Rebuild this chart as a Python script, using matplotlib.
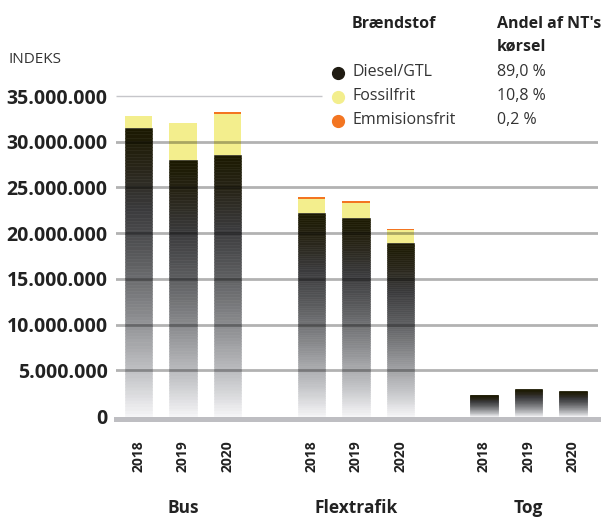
import numpy as np
import matplotlib
matplotlib.use("Agg")
import matplotlib.pyplot as plt
from matplotlib.colors import LinearSegmentedColormap
import matplotlib.transforms as mtransforms

plt.rcParams['font.family'] = ['Open Sans', 'DejaVu Sans']

# ---- data (values in millions) ----
groups = ['Bus', 'Flextrafik', 'Tog']
years = ['2018', '2019', '2020']
diesel = [31.5, 27.97, 28.56, 22.2, 21.7, 18.97, 2.3, 2.95, 2.73]
fossil = [1.3, 4.03, 4.48, 1.56, 1.63, 1.38, 0.0, 0.0, 0.0]
emission = [0.0, 0.0, 0.16, 0.21, 0.14, 0.14, 0.0, 0.0, 0.0]
ytick_vals = [0, 5, 10, 15, 20, 25, 30, 35]
legend_names = ['Diesel/GTL', 'Fossilfrit', 'Emmisionsfrit']
legend_shares = ['89,0 %', '10,8 %', '0,2 %']

C_DIESEL = '#1f1b12'
C_FOSSIL = '#f3ee8d'
C_EMIS = '#f37521'

W, H = 601, 519
fig = plt.figure(figsize=(W / 100, H / 100), dpi=100)

ymin, ymax = -0.27, 35.3
ax_bottom_px, ax_top_px = 418.5, 93.3
ax = fig.add_axes([116 / W, (H - ax_bottom_px) / H, 482 / W, (ax_bottom_px - ax_top_px) / H])

# positions
step_px = 44.5
group_px = 172.75
pos = []
for gi in range(len(groups)):
    for yi in range(len(years)):
        pos.append(gi * group_px / step_px + yi)
pos = np.array(pos)
bw = 27.5 / step_px

cmap = LinearSegmentedColormap.from_list('g', [
    (0.0, '#f5f5f7'),
    (0.15, '#c2c3c6'),
    (0.35, '#8a8b8e'),
    (0.55, '#5a5b5d'),
    (0.72, '#3a3a3c'),
    (0.86, '#282519'),
    (1.0, '#1b1900'),
])

xl = (116 - 138.5) / step_px
xr = (598 - 138.5) / step_px

# bars: diesel segment drawn as a vertical gradient made of thin slices
n_slices = 90
frac = np.arange(n_slices) / n_slices
for x, d, f, e in zip(pos, diesel, fossil, emission):
    cols = cmap(frac + 0.5 / n_slices)
    ax.bar(np.full(n_slices, x), np.full(n_slices, d / n_slices), bottom=frac * d,
           width=bw, color=cols, edgecolor=cols, linewidth=0.4, zorder=2)
    if f > 0:
        ax.bar(x, f, bottom=d, width=bw, color=C_FOSSIL, zorder=2.2, linewidth=0)
    if e > 0:
        ax.bar(x, e, bottom=d + f, width=bw, color=C_EMIS, zorder=2.5, linewidth=0)

ax.set_xlim(xl, xr)
ax.set_ylim(ymin, ymax)

# gridlines: standard y grid, drawn on top with transparency (multiply-like look)
ax.set_yticks(ytick_vals)
ax.grid(axis='y', color='#000000', alpha=0.3, linewidth=2.0, zorder=4)
ax.set_axisbelow(False)
gl = ax.yaxis.get_gridlines()
gl[0].set_visible(False)
gl[-1].set_visible(False)
ax.hlines([35], xl, (322 - 138.5) / step_px, colors='#c6c6ca', linewidths=1.0, zorder=0.5)

for s in ['top', 'right', 'left']:
    ax.spines[s].set_visible(False)
ax.spines['bottom'].set_color('#bebec2')
ax.spines['bottom'].set_linewidth(3.6)
ax.spines['bottom'].set_zorder(5)

ax.set_yticklabels(['{:,}'.format(v * 1000000).replace(',', '.') for v in ytick_vals],
                   fontsize=14, fontweight='bold', color='#222222')
ax.tick_params(axis='y', length=0, pad=6)
ax.set_xticks(pos)
ax.set_xticklabels(years * len(groups), rotation=90, fontsize=10, fontweight='bold',
                   color='#222222')
ax.tick_params(axis='x', length=0, pad=16)

trans = mtransforms.blended_transform_factory(ax.transData, fig.transFigure)
for gi, g in enumerate(groups):
    cx = pos[gi * 3 + 1]
    ax.text(cx, 1 - 508 / H, g, transform=trans, ha='center', va='center',
            fontsize=12.5, fontweight='bold', color='#222222')

fig.text(9 / W, 1 - 60 / H, 'INDEKS', ha='left', va='center', fontsize=11,
         color='#333333')

# legend
fs = 11.5
fig.text(352 / W, 1 - 24 / H, 'Brændstof', ha='left', va='center', fontsize=fs,
         fontweight='bold', color='#222222')
fig.text(497 / W, 1 - 24 / H, "Andel af NT's", ha='left', va='center', fontsize=fs,
         fontweight='bold', color='#222222')
fig.text(497 / W, 1 - 47 / H, 'kørsel', ha='left', va='center', fontsize=fs,
         fontweight='bold', color='#222222')
row_y = [72.5, 96.5, 120.5]
for name, share, col, ry in zip(legend_names, legend_shares, [C_DIESEL, C_FOSSIL, C_EMIS], row_y):
    fig.lines.append(plt.Line2D([338 / W], [1 - ry / H], marker='o', markersize=8.5,
                                color=col, transform=fig.transFigure, linestyle='none'))
    fig.text(352 / W, 1 - ry / H, name, ha='left', va='center', fontsize=fs, color='#333333')
    fig.text(497 / W, 1 - ry / H, share, ha='left', va='center', fontsize=fs, color='#333333')

fig.savefig('out.png', dpi=100)
